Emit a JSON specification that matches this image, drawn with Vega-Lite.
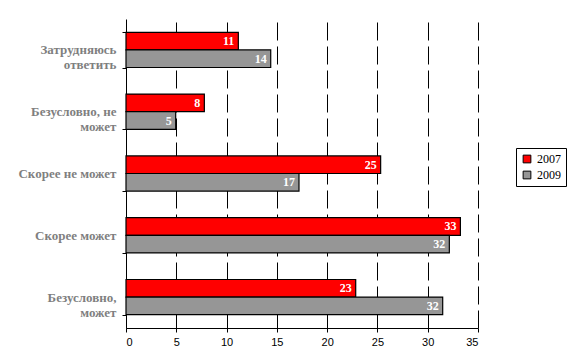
{
  "$schema": "https://vega.github.io/schema/vega-lite/v6.json",
  "width": 352,
  "height": 309,
  "autosize": {"type": "none"},
  "padding": {"left": 126, "top": 19, "right": 98, "bottom": 32},
  "background": "white",
  "data": {
    "values": [
      {"category": "Затрудняюсь ответить", "year": "2007", "value": 11.17, "label": "11"},
      {"category": "Затрудняюсь ответить", "year": "2009", "value": 14.39, "label": "14"},
      {"category": "Безусловно, не может", "year": "2007", "value": 7.79, "label": "8"},
      {"category": "Безусловно, не может", "year": "2009", "value": 4.94, "label": "5"},
      {"category": "Скорее не может", "year": "2007", "value": 25.32, "label": "25"},
      {"category": "Скорее не может", "year": "2009", "value": 17.2, "label": "17"},
      {"category": "Скорее может", "year": "2007", "value": 33.25, "label": "33"},
      {"category": "Скорее может", "year": "2009", "value": 32.15, "label": "32"},
      {"category": "Безусловно, может", "year": "2007", "value": 22.84, "label": "23"},
      {"category": "Безусловно, может", "year": "2009", "value": 31.49, "label": "32"}
    ]
  },
  "encoding": {
    "y": {
      "field": "category",
      "type": "nominal",
      "sort": ["Затрудняюсь ответить", "Безусловно, не может", "Скорее не может", "Скорее может", "Безусловно, может"],
      "scale": {"paddingInner": 0.43, "paddingOuter": 0.215},
      "axis": {
        "title": null,
        "domainColor": "black",
        "domainWidth": 1,
        "tickColor": "black",
        "tickSize": 4,
        "tickBand": "extent",
        "labelFont": "Liberation Serif",
        "labelFontWeight": "bold",
        "labelFontSize": 13,
        "labelColor": "#7f7f7f",
        "labelPadding": 6,
        "labelLineHeight": 15,
        "labelExpr": "datum.value == 'Затрудняюсь ответить' ? ['Затрудняюсь', 'ответить'] : datum.value == 'Безусловно, не может' ? ['Безусловно, не', 'может'] : datum.value == 'Безусловно, может' ? ['Безусловно,', 'может'] : datum.value"
      }
    },
    "yOffset": {"field": "year", "type": "nominal", "sort": ["2007", "2009"]},
    "x": {
      "field": "value",
      "type": "quantitative",
      "scale": {"domain": [0, 35], "nice": false},
      "axis": {
        "title": null,
        "values": [0, 5, 10, 15, 20, 25, 30, 35],
        "grid": true,
        "gridColor": "black",
        "gridDash": [18, 6],
        "gridWidth": 1,
        "gridOpacity": 1,
        "domainColor": "black",
        "tickColor": "black",
        "tickSize": 4,
        "labelFont": "Liberation Sans",
        "labelFontSize": 11,
        "labelColor": "black",
        "labelPadding": 4
      }
    }
  },
  "layer": [
    {
      "mark": {"type": "bar", "stroke": "black", "strokeWidth": 1.2},
      "encoding": {
        "color": {
          "field": "year",
          "type": "nominal",
          "scale": {"domain": ["2007", "2009"], "range": ["#ff0000", "#969696"]},
          "legend": {
            "title": null,
            "orient": "none",
            "legendX": 390,
            "legendY": 129,
            "strokeColor": "black",
            "fillColor": "white",
            "padding": 5,
            "symbolType": "square",
            "symbolSize": 60,
            "symbolStrokeColor": "black",
            "symbolStrokeWidth": 1,
            "labelFont": "Liberation Serif",
            "labelFontSize": 12,
            "labelColor": "black",
            "rowPadding": 4
          }
        }
      }
    },
    {
      "mark": {"type": "text", "align": "right", "dx": -4, "color": "white", "font": "Liberation Serif", "fontWeight": "bold", "fontSize": 12},
      "encoding": {"text": {"field": "label"}}
    }
  ],
  "config": {"view": {"stroke": null}}
}
